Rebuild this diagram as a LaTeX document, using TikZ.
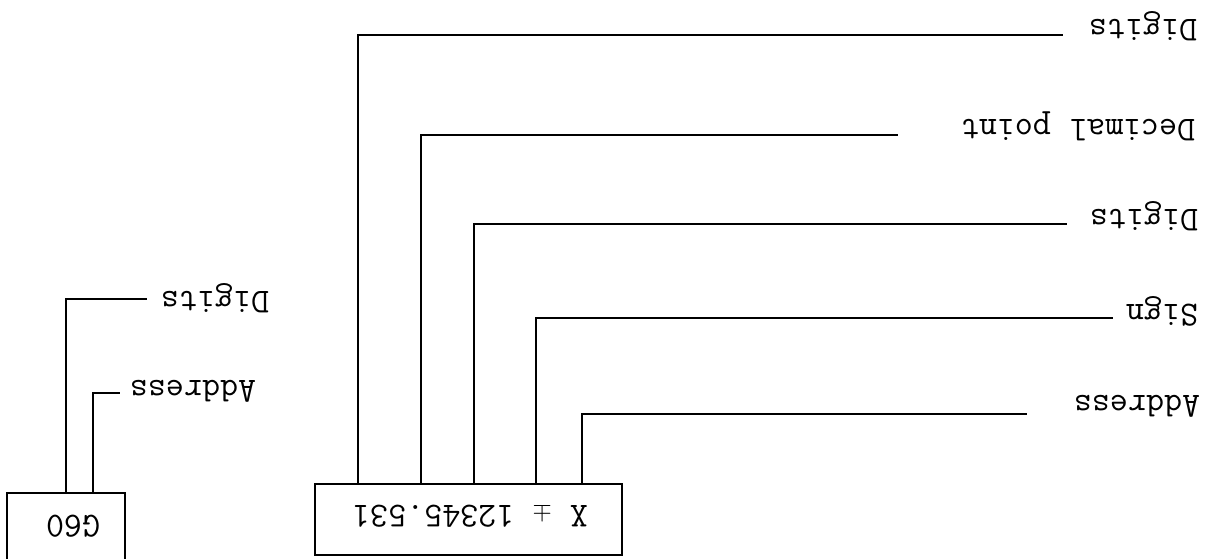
\documentclass[tikz,border=0pt]{standalone}
\begin{document}
\begin{tikzpicture}[x=1pt,y=-1pt,
  lbl/.style={font=\fontsize{35}{40}\selectfont\ttfamily, rotate=180, inner sep=0pt},
  wire/.style={line width=2.4pt},
  frame/.style={draw, line width=2.4pt, inner sep=0pt}]
\clip (0,0) rectangle (1211,558);
\fill[white] (0,0) rectangle (1211,558);
% main box
\node[frame, minimum width=307pt, minimum height=71pt] (xb) at (468.5,519.5) {};
\node[lbl] (xt) at (470,515) {X $\pm$ 12345.531};
% small box (cut by the page edge)
\node[frame, minimum width=118pt, minimum height=84pt] (gb) at (66,535) {};
\node[lbl] (gt) at (73,526) {G60};
% labels
\node[lbl] (d1) at (1143,26) {Digits};
\node[lbl] (dp) at (1078,126) {Decimal point};
\node[lbl] (d2) at (1144,216) {Digits};
\node[lbl] (sg) at (1162,311) {Sign};
\node[lbl] (ad) at (1137,406) {Address};
\node[lbl] (gd) at (215,298) {Digits};
\node[lbl] (ga) at (193,391) {Address};
% free ends of the leader lines
\coordinate (e1) at (1063,35);
\coordinate (e2) at (898,135);
\coordinate (e3) at (1067,224);
\coordinate (e4) at (1113,318);
\coordinate (e5) at (1027,414);
\coordinate (e6) at (147,299);
\coordinate (e7) at (120,393);
% leader lines
\draw[wire] (xb.north -| 358,0) |- (e1);
\draw[wire] (xb.north -| 421,0) |- (e2);
\draw[wire] (xb.north -| 474,0) |- (e3);
\draw[wire] (xb.north -| 536,0) |- (e4);
\draw[wire] (xb.north -| 582,0) |- (e5);
\draw[wire] (gb.north -| 66,0) |- (e6);
\draw[wire] (gb.north -| 93,0) |- (e7);
\end{tikzpicture}
\end{document}
